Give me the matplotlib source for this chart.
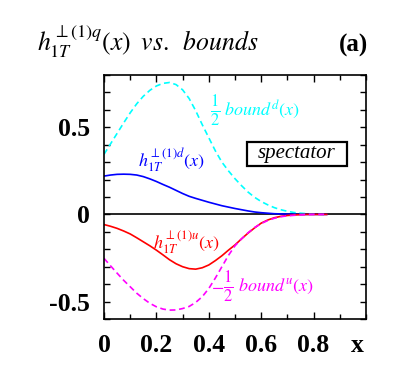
import matplotlib.pyplot as plt
from matplotlib.patches import Rectangle
from matplotlib.ticker import MultipleLocator

plt.rcParams['font.family'] = 'Liberation Serif'
plt.rcParams['mathtext.fontset'] = 'stix'
plt.rcParams['mathtext.default'] = 'it'

# x grid of the model curves
x = [0.0, 0.025, 0.05, 0.075, 0.1, 0.125, 0.15, 0.175, 0.2, 0.225,
     0.25, 0.275, 0.3, 0.325, 0.35, 0.375, 0.4, 0.425, 0.45, 0.475,
     0.5, 0.525, 0.55, 0.575, 0.6, 0.625, 0.65, 0.675, 0.7, 0.725,
     0.75, 0.775, 0.8, 0.825, 0.85]

# 1/2 bound^d(x)
bound_d = [0.345, 0.405, 0.465, 0.525, 0.583, 0.635, 0.678, 0.712, 0.737, 0.752,
           0.757, 0.745, 0.715, 0.665, 0.595, 0.515, 0.44, 0.365, 0.30, 0.25,
           0.205, 0.165, 0.128, 0.098, 0.074, 0.055, 0.039, 0.027, 0.018, 0.011,
           0.007, 0.004, 0.002, 0.001, 0.0]

# h1T^(1)d(x)
h_d = [0.22, 0.226, 0.23, 0.231, 0.23, 0.226, 0.217, 0.204, 0.189, 0.172,
       0.156, 0.138, 0.12, 0.104, 0.092, 0.081, 0.07, 0.06, 0.05, 0.042,
       0.034, 0.027, 0.02, 0.014, 0.01, 0.007, 0.004, 0.003, 0.002, 0.001,
       0.0, 0.0, 0.0, 0.0, 0.0]

# h1T^(1)u(x)
h_u = [-0.058, -0.068, -0.08, -0.095, -0.112, -0.134, -0.157, -0.18, -0.205, -0.232,
       -0.26, -0.283, -0.3, -0.311, -0.314, -0.306, -0.29, -0.265, -0.237, -0.205,
       -0.175, -0.14, -0.107, -0.077, -0.05, -0.032, -0.019, -0.011, -0.006, -0.003,
       -0.001, 0.0, 0.0, 0.0, 0.0]

# -1/2 bound^u(x)
bound_u = [-0.252, -0.295, -0.337, -0.378, -0.415, -0.452, -0.483, -0.51, -0.53, -0.543,
           -0.549, -0.548, -0.54, -0.528, -0.505, -0.472, -0.425, -0.365, -0.30, -0.235,
           -0.18, -0.14, -0.105, -0.075, -0.052, -0.035, -0.022, -0.013, -0.008, -0.005,
           -0.003, -0.001, 0.0, 0.0, 0.0]

fig = plt.figure(figsize=(4.09, 3.71), dpi=100)
ax = fig.add_axes([104 / 409, 1 - 319 / 371, 262 / 409, 244 / 371])

ax.axhline(0, color='black', lw=1.2)
ax.plot(x, bound_d, color='cyan', lw=1.2, dashes=(3.5, 2.2))
ax.plot(x, h_d, color='blue', lw=1.2)
ax.plot(x, h_u, color='red', lw=1.2)
ax.plot(x, bound_u, color='magenta', lw=1.2, dashes=(3.5, 2.2))

ax.set_xlim(0, 1)
ax.set_ylim(-0.6, 0.8)

ax.xaxis.set_major_locator(MultipleLocator(0.2))
ax.xaxis.set_minor_locator(MultipleLocator(0.1))
ax.yaxis.set_major_locator(MultipleLocator(0.5))
ax.yaxis.set_minor_locator(MultipleLocator(0.1))
ax.tick_params(which='both', direction='in', top=True, right=True, width=1.0)
ax.tick_params(axis='x', which='major', length=5, pad=11)
ax.tick_params(axis='x', which='minor', length=3.5)
ax.tick_params(axis='y', which='both', length=4, pad=10)
ax.set_xticks([0, 0.2, 0.4, 0.6, 0.8])
ax.set_xticklabels(['0', '0.2', '0.4', '0.6', '0.8'])
ax.set_yticks([-0.5, 0, 0.5])
ax.set_yticklabels(['-0.5', '0', '0.5'])
for lab in ax.get_xticklabels() + ax.get_yticklabels():
    lab.set_fontweight('bold')
    lab.set_fontsize(18.5)
for s in ax.spines.values():
    s.set_linewidth(1.2)

ax.text(0.965, -0.752, 'x', fontsize=18.5, fontweight='bold', ha='center', va='center')

# curve labels (fraction drawn a bit larger, as in the original)
ax.text(0.403, 0.593, r'$\frac{1}{2}$', color='cyan', fontsize=17, va='center')
ax.text(0.458, 0.598, r'$bound^{d}(x)$', color='cyan', fontsize=13, va='center')
ax.text(0.13, 0.308, r'$h_{1T}^{\perp(1)d}(x)$', color='blue', fontsize=13, va='center')
ax.text(0.187, -0.163, r'$h_{1T}^{\perp(1)u}(x)$', color='red', fontsize=13, va='center')
ax.text(0.41, -0.419, r'$-$', color='magenta', fontsize=13, va='center')
ax.text(0.455, -0.419, r'$\frac{1}{2}$', color='magenta', fontsize=17, va='center')
ax.text(0.511, -0.414, r'$bound^{u}(x)$', color='magenta', fontsize=13, va='center')

ax.add_patch(Rectangle((0.546, 0.279), 0.381, 0.138, fc='white', ec='black', lw=1.6, zorder=3))
ax.text(0.7365, 0.349, 'spectator', fontsize=15, style='italic', ha='center', va='center', zorder=4)

fig.text(37 / 409, 1 - 42 / 371, r'$h_{1T}^{\perp(1)q}(x)\;\;vs.\;\;bounds$', fontsize=18.5, va='center')
fig.text(368 / 409, 1 - 45 / 371, '(a)', fontsize=18, fontweight='bold', ha='right', va='center')

fig.savefig('out.png', dpi=100)
